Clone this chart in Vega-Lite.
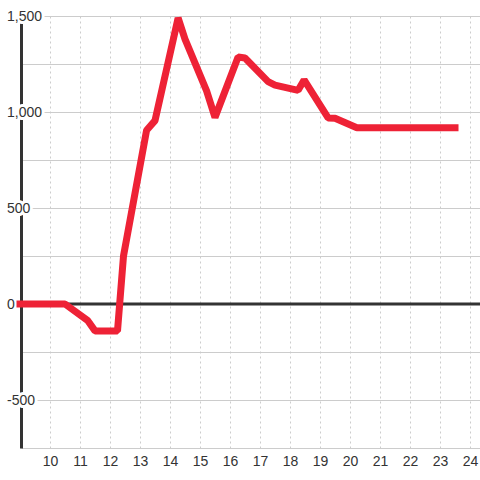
{
  "$schema": "https://vega.github.io/schema/vega-lite/v6.json",
  "width": 460,
  "height": 432,
  "autosize": "none",
  "padding": {"left": 20, "top": 16, "right": 0, "bottom": 32},
  "background": "white",
  "config": {
    "view": {"stroke": null},
    "font": "Liberation Sans",
    "axisX": {
      "title": null,
      "grid": true,
      "gridColor": "#cccccc",
      "gridDash": [2, 3],
      "gridWidth": 1,
      "domain": false,
      "ticks": false,
      "tickCount": 15,
      "tickMinStep": 1,
      "labelFont": "Liberation Sans",
      "labelFontSize": 14,
      "labelColor": "#333333",
      "labelPadding": 6,
      "labelFlush": false,
      "labelOverlap": false
    },
    "axisY": {
      "title": null,
      "grid": true,
      "gridColor": "#cccccc",
      "gridWidth": 1,
      "labels": false,
      "ticks": false,
      "domain": true,
      "domainColor": "#333333",
      "domainWidth": 3,
      "offset": -1
    }
  },
  "datasets": {
    "series": [
      {"t": 9, "v": 0},
      {"t": 10.5, "v": 0},
      {"t": 11.25, "v": -85},
      {"t": 11.5, "v": -140},
      {"t": 12.25, "v": -140},
      {"t": 12.45, "v": 250},
      {"t": 13.22, "v": 905},
      {"t": 13.5, "v": 955},
      {"t": 14.27, "v": 1490},
      {"t": 14.5, "v": 1380},
      {"t": 15.22, "v": 1110},
      {"t": 15.5, "v": 972},
      {"t": 16.27, "v": 1286},
      {"t": 16.5, "v": 1281},
      {"t": 17.27, "v": 1158},
      {"t": 17.5, "v": 1140},
      {"t": 18.27, "v": 1113},
      {"t": 18.47, "v": 1167},
      {"t": 19.27, "v": 969},
      {"t": 19.5, "v": 967},
      {"t": 20.23, "v": 918},
      {"t": 23.5, "v": 918}
    ],
    "labels": [
      {"v": -500, "label": "-500"},
      {"v": 0, "label": "0"},
      {"v": 500, "label": "500"},
      {"v": 1000, "label": "1,000"},
      {"v": 1500, "label": "1,500"}
    ]
  },
  "layer": [
    {
      "data": {"values": [{}]},
      "mark": {"type": "rule", "color": "#333333", "strokeWidth": 3},
      "encoding": {"y": {"datum": 0, "type": "quantitative"}}
    },
    {
      "data": {"name": "labels"},
      "mark": {"type": "text", "align": "left", "baseline": "middle", "dx": -13, "dy": 1, "fontSize": 14, "fill": "white", "stroke": "white", "strokeWidth": 6, "strokeJoin": "round"},
      "encoding": {
        "x": {"datum": 9, "type": "quantitative", "axis": {"values": [10, 11, 12, 13, 14, 15, 16, 17, 18, 19, 20, 21, 22, 23, 24], "tickCount": 15, "tickMinStep": 1, "labelOverlap": false, "labelExpr": "datum.label"}},
        "y": {"field": "v", "type": "quantitative"},
        "text": {"field": "label"}
      }
    },
    {
      "data": {"name": "labels"},
      "mark": {"type": "text", "align": "left", "baseline": "middle", "dx": -13, "dy": 1, "fontSize": 14, "fill": "#333333"},
      "encoding": {
        "x": {"datum": 9, "type": "quantitative", "axis": {"values": [10, 11, 12, 13, 14, 15, 16, 17, 18, 19, 20, 21, 22, 23, 24], "tickCount": 15, "tickMinStep": 1, "labelOverlap": false, "labelExpr": "datum.label"}},
        "y": {"field": "v", "type": "quantitative"},
        "text": {"field": "label"}
      }
    },
    {
      "data": {"name": "series"},
      "mark": {"type": "line", "color": "#ee2236", "strokeWidth": 7, "strokeCap": "square", "strokeJoin": "bevel"},
      "encoding": {
        "x": {
          "field": "t",
          "type": "quantitative",
          "scale": {"domain": [9, 24.333], "nice": false, "zero": false},
          "axis": {"values": [10, 11, 12, 13, 14, 15, 16, 17, 18, 19, 20, 21, 22, 23, 24], "tickCount": 15, "tickMinStep": 1, "labelOverlap": false, "labelExpr": "datum.label"}
        },
        "y": {
          "field": "v",
          "type": "quantitative",
          "scale": {"domain": [-750, 1500], "nice": false, "zero": false},
          "axis": {"values": [-750, -500, -250, 0, 250, 500, 750, 1000, 1250, 1500]}
        }
      }
    }
  ]
}
